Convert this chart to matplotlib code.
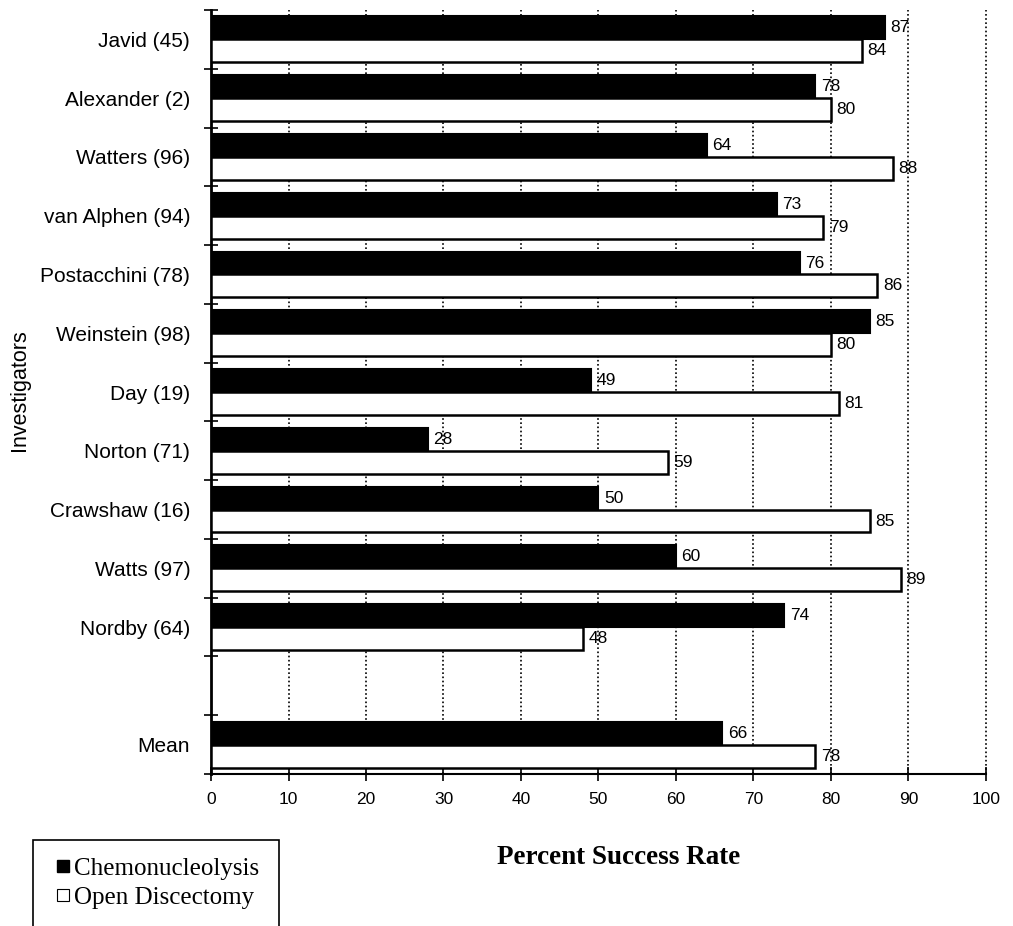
import matplotlib
matplotlib.use("Agg")
import matplotlib.pyplot as plt
from matplotlib.lines import Line2D
from matplotlib.patches import Rectangle
import numpy as np

# success rates (%) per study, blank row before the mean
investigators = ["Javid (45)", "Alexander (2)", "Watters (96)", "van Alphen (94)",
                 "Postacchini (78)", "Weinstein (98)", "Day (19)", "Norton (71)",
                 "Crawshaw (16)", "Watts (97)", "Nordby (64)", "", "Mean"]
chemo = [87, 78, 64, 73, 76, 85, 49, 28, 50, 60, 74, None, 66]
open_disc = [84, 80, 88, 79, 86, 80, 81, 59, 85, 89, 48, None, 78]
x_ticks = [0, 10, 20, 30, 40, 50, 60, 70, 80, 90, 100]

SANS = "Liberation Sans"
SERIF = "Liberation Serif"

fig = plt.figure(figsize=(10.13, 9.26), dpi=100)
ax = fig.add_axes([0.2083, 0.1641, 0.765, 0.8251])

h = 0.39
off = 0.195
for i, (c, o) in enumerate(zip(chemo, open_disc)):
    if c is None:
        continue
    ax.barh(i - off, c, height=h, color="black", edgecolor="black", linewidth=1.5, zorder=3)
    ax.barh(i + off, o, height=h, color="white", edgecolor="black", linewidth=1.8, zorder=3)
    ax.text(c + 0.7, i - off, str(c), va="center", ha="left", fontsize=12.5,
            family=SANS, zorder=4)
    ax.text(o + 0.7, i + off, str(o), va="center", ha="left", fontsize=12.5,
            family=SANS, zorder=4)

ax.set_xlim(0, 100)
ax.set_ylim(len(investigators) - 0.5, -0.5)

for xv in x_ticks[1:]:
    ax.axvline(xv, color="black", linestyle=(0, (1, 1.5)), linewidth=1.2, zorder=1,
               clip_on=False)

ax.set_xticks(x_ticks)
ax.set_xticklabels([str(v) for v in x_ticks], family=SANS, fontsize=12.5)
ax.tick_params(axis="x", direction="inout", length=10, width=1.2, pad=8)

ax.set_yticks(np.arange(len(investigators)))
ax.set_yticklabels(investigators, family=SANS, fontsize=15)
ax.set_yticks(np.arange(len(investigators) + 1) - 0.5, minor=True)
ax.tick_params(axis="y", which="major", length=0, pad=15)
ax.tick_params(axis="y", which="minor", direction="inout", length=10, width=1.2)

for s in ["top", "right"]:
    ax.spines[s].set_visible(False)
ax.spines["left"].set_linewidth(2)
ax.spines["bottom"].set_linewidth(1.5)

fig.text(20 / 1013, 1 - 390 / 926, "Investigators", rotation=90, ha="center",
         va="center", family=SANS, fontsize=15.5)
fig.text(619 / 1013, 1 - 858 / 926, "Percent Success Rate", ha="center",
         va="center", family=SERIF, fontsize=19.5, fontweight="bold")

# legend box runs off the bottom edge
fig.patches.append(Rectangle((33 / 1013, -0.05), (279 - 33) / 1013, 0.05 + (926 - 840) / 926,
                             transform=fig.transFigure, facecolor="none",
                             edgecolor="black", linewidth=1.2))
handles = [Line2D([], [], marker="s", linestyle="none", markersize=8,
                  markerfacecolor="black", markeredgecolor="black"),
           Line2D([], [], marker="s", linestyle="none", markersize=8,
                  markerfacecolor="white", markeredgecolor="black", markeredgewidth=0.8)]
fig.legend(handles, ["Chemonucleolysis", "Open Discectomy"], loc="upper left",
           bbox_to_anchor=(40 / 1013, 1 - 845 / 926), frameon=False,
           prop={"family": SERIF, "size": 18}, handletextpad=0.05,
           handlelength=0.8, labelspacing=0.25, borderpad=0)

fig.savefig("out.png", dpi=100)
